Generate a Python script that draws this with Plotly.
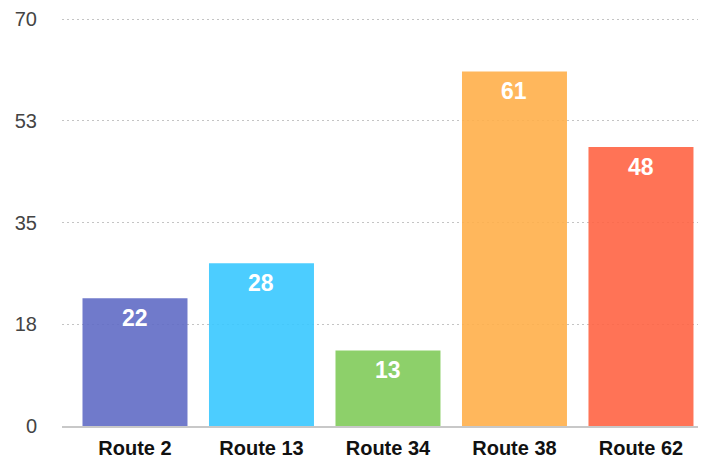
import plotly.graph_objects as go

routes = ["Route 2", "Route 13", "Route 34", "Route 38", "Route 62"]
riders = [22, 28, 13, 61, 48]
colors = ["#616BC5", "#39C8FF", "#81CB5A", "#FFAF4A", "#FF6444"]
tick_vals = [0, 17.5, 35, 52.5, 70]
tick_text = ["0", "18", "35", "53", "70"]

fig = go.Figure()
fig.add_trace(
    go.Bar(
        x=routes,
        y=riders,
        marker=dict(color=colors, line=dict(width=0), opacity=0.9),
        width=0.83,
        hoverinfo="x+y",
    )
)

# labels sit just under each bar's top
for r, v in zip(routes, riders):
    fig.add_annotation(
        x=r, y=v, text=f"<b>{v}</b>", showarrow=False,
        yanchor="top", yshift=-5,
        font=dict(family="Liberation Sans, Arial", size=23, color="white"),
    )

# page body has an 8px margin, so the figure is 8px smaller than the window
fig.update_layout(
    width=698,
    height=453,
    margin=dict(l=54, r=0, t=10, b=35),
    paper_bgcolor="white",
    plot_bgcolor="white",
    showlegend=False,
    font=dict(family="Liberation Sans, Arial", color="#333"),
    xaxis=dict(
        range=[-0.577, 4.514],
        automargin=False,
        showgrid=False,
        showline=True,
        linecolor="#c8c8c8",
        linewidth=2,
        ticks="",
        tickfont=dict(size=20, color="#111", family="Liberation Sans, Arial", weight="bold"),
        ticklabelstandoff=3,
    ),
    yaxis=dict(
        range=[0, 70.2],
        automargin=False,
        tickvals=tick_vals,
        ticktext=tick_text,
        showgrid=True,
        gridcolor="#c4c4c4",
        griddash="2px,3px",
        gridwidth=1,
        zeroline=False,
        showline=False,
        ticks="",
        tickfont=dict(size=20, color="#444"),
        ticklabelstandoff=24,
    ),
)

fig.write_html("out.html")
